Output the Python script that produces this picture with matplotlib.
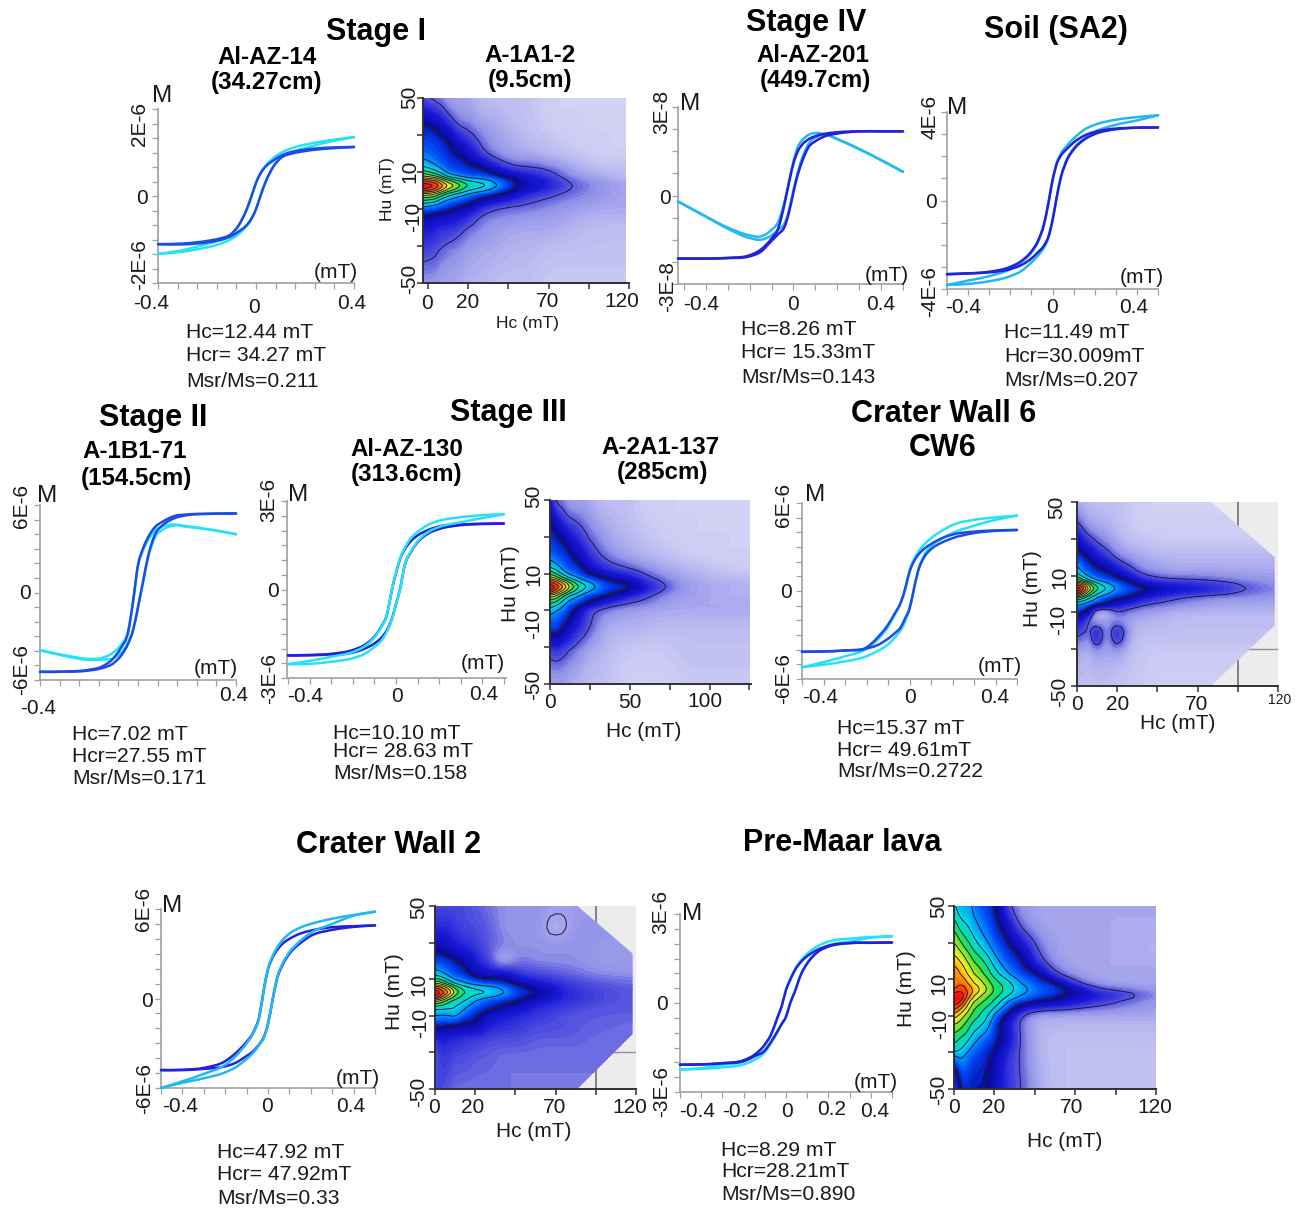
#!/usr/bin/env python3
# -*- coding: utf-8 -*-
"""Hysteresis loops and FORC diagrams, Stage I-IV, soil, crater wall and lava samples"""

import numpy as np
import matplotlib
matplotlib.use('Agg')
import matplotlib.pyplot as plt
from matplotlib.colors import LinearSegmentedColormap
from matplotlib.patches import PathPatch, Polygon
from matplotlib.path import Path

plt.rcParams['font.family'] = ['Liberation Sans', 'DejaVu Sans']

W, H = 1305, 1209

# field axis of the loops (T)
X_40 = [-0.4, -0.3, -0.2, -0.15, -0.1, -0.07, -0.04, -0.02, 0, 0.02, 0.04, 0.07, 0.1, 0.15, 0.2, 0.3, 0.4]
X_50 = [-0.5, -0.4, -0.3, -0.2, -0.15, -0.1, -0.07, -0.04, -0.02, 0, 0.02, 0.04, 0.07, 0.1, 0.15, 0.2, 0.3, 0.4, 0.5]
X_53 = [-0.527, -0.4, -0.3, -0.2, -0.15, -0.1, -0.07, -0.04, -0.02, 0, 0.02, 0.04, 0.07, 0.1, 0.15, 0.2, 0.3, 0.4, 0.5]

# Al-AZ-14, M in 1E-6
AZ14_BLUE_UP = [-1.66, -1.64, -1.55, -1.47, -1.3, -1.0, -0.5, -0.05, 0.45, 0.8, 1.02, 1.22, 1.38, 1.53, 1.6, 1.67, 1.69]
AZ14_BLUE_LO = [-1.66, -1.67, -1.6, -1.53, -1.38, -1.22, -1.02, -0.8, -0.45, 0.05, 0.5, 1.0, 1.3, 1.47, 1.55, 1.64, 1.69]
AZ14_RAW_UP = [-2.0, -1.87, -1.65, -1.52, -1.33, -1.02, -0.5, -0.05, 0.46, 0.82, 1.06, 1.3, 1.48, 1.66, 1.77, 1.92, 2.03]
AZ14_RAW_LO = [-2.0, -1.92, -1.77, -1.66, -1.48, -1.3, -1.06, -0.82, -0.46, 0.05, 0.5, 1.02, 1.33, 1.52, 1.65, 1.87, 2.03]

# Al-AZ-201, M in 1E-8
AZ201_BLUE_UP = [-2.85, -2.85, -2.82, -2.7, -2.45, -1.95, -1.5, -0.35, 0.6, 1.45, 2.0, 2.3, 2.55, 2.68, 2.8, 2.86, 2.9, 2.9, 2.9]
AZ201_BLUE_LO = [-2.85, -2.85, -2.83, -2.75, -2.55, -2.05, -1.75, -1.4, -0.75, 0.15, 0.95, 1.55, 2.2, 2.45, 2.7, 2.8, 2.9, 2.9, 2.9]
AZ201_RAW_UP = [-0.27, -0.95, -1.45, -1.8, -1.85, -1.55, -1.2, -0.25, 0.65, 1.55, 2.2, 2.5, 2.75, 2.82, 2.75, 2.55, 2.1, 1.6, 1.07]
AZ201_RAW_LO = [-0.27, -0.95, -1.5, -1.92, -2.0, -1.8, -1.55, -1.25, -0.65, 0.25, 1.05, 1.7, 2.35, 2.62, 2.75, 2.55, 2.1, 1.6, 1.07]

# Soil SA2, M in 1E-6
SOIL_BLUE_UP = [-3.33, -3.3, -3.22, -3.0, -2.75, -2.3, -1.85, -1.05, -0.15, 0.9, 1.65, 2.03, 2.35, 2.62, 2.93, 3.1, 3.25, 3.29, 3.3]
SOIL_BLUE_LO = [-3.33, -3.29, -3.25, -3.1, -2.93, -2.62, -2.35, -2.03, -1.65, -0.9, 0.15, 1.05, 1.85, 2.3, 2.75, 3.0, 3.22, 3.29, 3.3]
SOIL_RAW_UP = [-3.82, -3.62, -3.42, -3.1, -2.8, -2.35, -1.9, -1.08, -0.15, 0.92, 1.7, 2.12, 2.5, 2.8, 3.2, 3.42, 3.65, 3.77, 3.85]
SOIL_RAW_LO = [-3.82, -3.77, -3.65, -3.42, -3.2, -2.8, -2.5, -2.12, -1.7, -0.92, 0.15, 1.08, 1.9, 2.35, 2.8, 3.1, 3.42, 3.62, 3.85]

# A-1B1-71, M in 1E-6
B71_BLUE_UP = [-5.44, -5.43, -5.3, -5.1, -4.5, -3.8, -2.7, -0.6, 1.9, 3.0, 3.75, 4.5, 4.85, 5.25, 5.35, 5.4, 5.42]
B71_BLUE_LO = [-5.44, -5.43, -5.35, -5.2, -4.85, -4.35, -3.5, -2.6, -1.0, 0.7, 2.4, 4.0, 4.6, 5.1, 5.3, 5.4, 5.42]
B71_RAW_UP = [-3.95, -4.3, -4.55, -4.5, -4.1, -3.6, -2.6, -0.6, 1.8, 2.85, 3.55, 4.25, 4.55, 4.65, 4.55, 4.3, 4.0]
B71_RAW_LO = [-3.95, -4.35, -4.62, -4.6, -4.5, -4.15, -3.4, -2.5, -1.0, 0.65, 2.3, 3.8, 4.3, 4.6, 4.5, 4.3, 4.0]

# Al-AZ-130, M in 1E-6
AZ130_BLUE_UP = [-2.23, -2.22, -2.18, -2.05, -1.9, -1.6, -1.28, -0.8, -0.05, 0.55, 1.05, 1.35, 1.65, 1.83, 2.02, 2.14, 2.2, 2.23, 2.24]
AZ130_BLUE_LO = [-2.24, -2.23, -2.2, -2.14, -2.02, -1.83, -1.65, -1.35, -1.02, -0.5, 0.05, 0.8, 1.28, 1.6, 1.9, 2.05, 2.18, 2.22, 2.23]
AZ130_RAW_UP = [-2.53, -2.42, -2.28, -2.12, -1.95, -1.63, -1.3, -0.82, -0.05, 0.57, 1.08, 1.4, 1.75, 1.95, 2.2, 2.33, 2.45, 2.52, 2.55]
AZ130_RAW_LO = [-2.53, -2.52, -2.45, -2.33, -2.2, -1.95, -1.75, -1.4, -1.05, -0.52, 0.05, 0.82, 1.3, 1.63, 1.95, 2.12, 2.28, 2.42, 2.55]

# CW6, M in 1E-6
CW6_BLUE_UP = [-4.14, -4.12, -4.05, -3.85, -3.2, -2.3, -1.57, -0.75, 0.15, 1.3, 2.0, 2.45, 2.9, 3.2, 3.6, 3.85, 4.05, 4.13, 4.16]
CW6_BLUE_LO = [-4.14, -4.12, -4.06, -3.92, -3.7, -3.25, -2.9, -2.45, -1.85, -1.2, 0.1, 1.35, 2.35, 2.85, 3.3, 3.6, 3.95, 4.1, 4.16]
CW6_RAW_UP = [-5.2, -4.85, -4.45, -3.95, -3.35, -2.45, -1.65, -0.8, 0.15, 1.4, 2.15, 2.65, 3.2, 3.6, 4.1, 4.5, 4.85, 5.02, 5.14]
CW6_RAW_LO = [-5.2, -5.02, -4.8, -4.45, -4.1, -3.65, -3.2, -2.65, -2.05, -1.25, 0.1, 1.4, 2.5, 3.05, 3.55, 3.95, 4.45, 4.85, 5.14]

# CW2, M in 1E-6
CW2_BLUE_UP = [-4.8, -4.78, -4.65, -4.2, -3.65, -2.9, -2.3, -1.15, 0.55, 1.95, 2.7, 3.2, 3.7, 4.0, 4.35, 4.55, 4.78, 4.85, 4.9]
CW2_BLUE_LO = [-4.8, -4.8, -4.72, -4.55, -4.3, -3.85, -3.55, -3.05, -2.6, -1.7, -0.2, 1.2, 2.3, 3.0, 3.7, 4.2, 4.6, 4.8, 4.9]
CW2_RAW_UP = [-6.0, -5.55, -5.05, -4.45, -3.85, -3.0, -2.35, -1.2, 0.55, 2.0, 2.8, 3.35, 3.95, 4.35, 4.75, 5.0, 5.35, 5.6, 5.82]
CW2_RAW_LO = [-6.0, -5.65, -5.35, -4.95, -4.6, -4.05, -3.65, -3.1, -2.65, -1.75, -0.2, 1.25, 2.4, 3.1, 3.85, 4.4, 5.0, 5.55, 5.82]

# Pre-Maar lava, M in 1E-6
LAVA_BLUE_UP = [-2.08, -2.07, -2.03, -1.93, -1.75, -1.4, -1.05, -0.48, -0.1, 0.44, 0.78, 1.08, 1.38, 1.58, 1.8, 1.93, 2.02, 2.03, 2.04]
LAVA_BLUE_LO = [-2.08, -2.07, -2.03, -1.96, -1.8, -1.6, -1.3, -0.95, -0.7, -0.46, 0, 0.35, 0.95, 1.33, 1.72, 1.9, 2.02, 2.03, 2.04]
LAVA_RAW_UP = [-2.24, -2.2, -2.08, -1.97, -1.78, -1.42, -1.07, -0.49, -0.1, 0.45, 0.8, 1.11, 1.43, 1.66, 1.92, 2.07, 2.17, 2.22, 2.25]
LAVA_RAW_LO = [-2.24, -2.22, -2.17, -2.07, -1.92, -1.66, -1.35, -0.98, -0.72, -0.47, 0, 0.36, 0.97, 1.35, 1.75, 1.94, 2.07, 2.2, 2.25]

# FORC grids: colour level 0-20
HC_GRID = [0, 4, 8, 12, 18, 24, 32, 40, 50, 60, 72, 85, 100, 120]
HU_GRID = [50, 38, 28, 20, 13, 8, 4, 1, -2, -6, -10, -15, -22, -32, -50]

FORC_A1A1 = [
    [5, 4, 4, 3, 3, 3, 2, 2, 2, 2, 1, 1, 1, 1],
    [9, 8, 7, 6, 4, 4, 3, 3, 2, 2, 1, 1, 1, 1],
    [10, 10, 9.5, 9, 7, 6, 4.5, 3.5, 3, 2, 2, 1, 1, 1],
    [10.5, 10, 10, 9.5, 9, 8, 5.2, 4, 3, 3, 2, 2, 1, 1],
    [12, 11, 10.5, 10, 9.8, 9.5, 9, 7, 5, 5, 4.5, 3, 2, 2],
    [14.5, 13.5, 12.5, 11, 10.5, 10, 10, 9.5, 8, 7, 6, 4, 3, 2],
    [20, 19, 17.5, 16, 14.5, 13, 12.5, 11.5, 9.8, 8, 7, 5, 4, 3],
    [20, 18.5, 17, 15.5, 14, 12.5, 12, 11, 9.3, 7.5, 6.5, 5, 4, 3],
    [15.5, 15, 13.5, 12.5, 11.5, 11, 10, 9.5, 8, 6.5, 5.5, 4.5, 4, 3],
    [12.5, 12, 11, 10.5, 10, 9.5, 8, 7, 6, 5.2, 4.5, 4, 3.5, 3],
    [10.5, 10, 9.8, 9.5, 8.5, 8, 6, 5, 4.5, 4.5, 4, 3.5, 3, 3],
    [8.5, 8, 7.5, 7.5, 7, 6.2, 4.5, 4, 4, 3.5, 3.5, 3, 2.5, 2.5],
    [7, 6.5, 6, 6, 5.5, 4.5, 4, 3.5, 3, 3, 3, 2.5, 2, 2],
    [6, 5.5, 5, 4.5, 4, 3.5, 3, 3, 2.5, 2.5, 2, 2, 2, 2],
    [3.5, 3.5, 3, 3, 3, 2.5, 2.5, 2, 2, 2, 1.5, 1.5, 1.5, 1.5],
]

FORC_A2A1 = [
    [7, 4, 4, 3, 3, 3, 2, 2, 2, 1, 1, 1, 1, 1],
    [9, 8, 6.5, 5.5, 5, 4, 3, 2.5, 2, 1.5, 1, 1, 1, 1],
    [10, 9.5, 9, 8, 6.5, 5.2, 4, 3, 2.5, 2, 1.5, 1, 1, 1],
    [10.5, 10, 10, 9.5, 8, 6.5, 4.8, 4, 3, 2.5, 2, 1.5, 1, 1],
    [12, 11.5, 10.5, 10, 9.7, 8, 6.5, 5.5, 5, 4, 3, 2.5, 2, 1],
    [15, 14, 12.5, 11.5, 10.5, 9.8, 9, 8, 7, 5.5, 4, 3, 2.5, 2],
    [20, 19, 17.5, 15.5, 13, 12, 10.5, 9.8, 9.2, 7, 5.2, 3.5, 3, 2.5],
    [20, 18, 16.5, 14.5, 12.5, 11.5, 10.2, 9.6, 9, 6.8, 4.8, 3.5, 3, 2.5],
    [15.5, 15, 13, 12, 11, 10, 9.5, 8.5, 6.5, 5.5, 4, 3.5, 3, 2.5],
    [13, 12.5, 11.5, 10.5, 9.8, 9, 7, 5.8, 5, 4.5, 3.5, 3, 3, 3],
    [11.5, 11, 10.5, 9.7, 8, 5.5, 4.5, 4, 3.5, 3, 3, 3, 3, 3],
    [10.5, 10.3, 9.8, 9, 7, 5.5, 4, 3, 3, 3, 2.5, 2.5, 2.5, 2.5],
    [9.5, 9.8, 8.5, 7.5, 6, 5.2, 3, 2.5, 2.5, 2, 2, 2, 2, 2],
    [5.5, 6, 5.5, 5, 4, 3, 2.5, 2, 1.5, 1.5, 1.5, 2, 2, 2],
    [3, 3, 3, 2.5, 2.5, 2, 2, 1.5, 1, 1, 1, 1.5, 1.5, 1.5],
]

FORC_CW6 = [
    [2.5, 2.5, 2, 2, 2, 2, 1.5, 1, 1, 1, 1, 1, 1, 1],
    [5.5, 4, 3, 3, 2.5, 2, 1.5, 1, 1, 1, 1, 1, 1, 1],
    [8.5, 7, 6, 5, 4, 3, 2, 2, 1.5, 1.5, 1.5, 1.5, 1.5, 1.5],
    [10, 9.5, 8.5, 7.5, 6, 4.5, 3.5, 3, 2.5, 2.5, 2.5, 2.5, 2.5, 2.5],
    [11.5, 10.5, 10, 9.5, 9, 7.5, 5.5, 4, 3.5, 3, 3, 3, 3, 3],
    [13.5, 12, 11, 10.5, 10, 9.6, 8, 6, 5.2, 5, 5, 4.5, 4, 3.5],
    [20, 19, 15.5, 13.5, 12, 11, 10, 9.3, 8, 7.5, 7, 6.5, 5.2, 4],
    [20, 17, 14, 12.5, 11.5, 10.5, 9.8, 9, 7.5, 7, 6.5, 6, 4.8, 4],
    [14, 13, 12, 11, 10, 9.5, 8.5, 7, 6, 5.2, 4.5, 4, 4, 3.5],
    [11, 10.5, 10, 9.5, 8.5, 7, 6, 5, 4.5, 4, 3.5, 3, 3, 3],
    [9.5, 9, 7, 2, 2, 5.2, 4, 3.5, 3, 2.5, 2.5, 2.5, 2.5, 2.5],
    [7, 6, 4, 3, 3.5, 4, 3, 2.5, 2.5, 2, 2, 2, 2, 2],
    [5.5, 5, 5, 9, 3, 9, 2.5, 2, 2, 2, 2, 2, 2, 2],
    [3, 2.5, 2.5, 3, 3, 3, 2, 1.5, 1.5, 1.5, 1.5, 1.5, 1.5, 1.5],
    [2, 2, 2, 2, 2, 1.5, 1.5, 1.5, 1, 1, 1, 1, 1, 1],
]

FORC_CW2 = [
    [5.5, 5.5, 5.5, 5.5, 5.5, 5, 4.5, 4, 4, 4, 3.5, 3.5, 3.5, 3.5],
    [6.5, 6.5, 6.5, 6, 5.5, 5.5, 5, 4, 3.5, 4, 2, 4, 4, 4],
    [8.5, 8, 7.5, 7, 6.5, 6, 5, 4.5, 4, 4, 4, 4, 3.5, 3.5],
    [10, 10, 9.8, 9.3, 8.5, 7, 5.5, 2, 4.5, 4, 4, 4, 3.5, 3.5],
    [11.5, 11, 10.5, 10, 9.6, 8, 7.5, 8, 6, 5.5, 5, 4.5, 4, 4],
    [14.5, 14, 12.5, 11.5, 11, 10.5, 10, 9.8, 8.5, 7, 6.5, 5.5, 5, 4.5],
    [20, 19, 17.5, 15, 13, 12.5, 12.2, 11.5, 9.8, 9.3, 7, 6, 5.5, 5],
    [20, 18, 16, 14, 12.5, 12, 11.5, 11, 9.6, 9, 7, 6.2, 5.5, 5],
    [15, 14.5, 13, 12.5, 12, 11, 10, 9.6, 9, 7.5, 6.5, 6, 5.5, 5],
    [12, 12, 12, 12, 11, 10, 9.5, 8.5, 7.5, 6.5, 6, 5.5, 5, 5],
    [11, 11, 11, 11.5, 10, 9.5, 7.5, 7, 6.5, 6, 5.5, 5, 5, 5],
    [9.8, 9.5, 9.2, 9.2, 8.5, 9, 7, 6.5, 6, 5.5, 5.5, 5, 5, 4.5],
    [6, 7, 6.5, 6.5, 6, 6, 5.5, 5.5, 5.5, 5, 5, 5, 4.5, 4.5],
    [5, 6, 6, 5.5, 5.5, 5, 5, 4.5, 4.5, 4.5, 4.5, 4.5, 4.5, 4.5],
    [5.5, 5.5, 5, 4.5, 4.5, 4.5, 4.5, 4.5, 4.5, 4.5, 4.5, 4.5, 4.5, 4.5],
]

FORC_LAVA = [
    [12, 11, 11.5, 10.5, 10, 9.3, 5, 3.5, 3, 3, 3, 3, 3, 3],
    [14, 12.5, 12, 11.5, 10.5, 10, 8, 4.5, 3.5, 3, 3, 3, 3, 3],
    [15.5, 14.5, 13.5, 12.5, 11.5, 10.5, 9.5, 8, 4.5, 3.5, 3, 3, 3, 2.5],
    [16.5, 16, 15, 14, 13, 11.5, 10, 9.5, 5.5, 3.5, 3, 3, 3, 3],
    [18, 17, 16, 15, 14, 12.5, 11, 10, 9.3, 5, 3.5, 3, 3, 3],
    [17, 18, 17, 16, 15, 13.5, 12.5, 11, 10, 9.5, 5.2, 3.5, 3, 3],
    [18, 19, 18, 17, 15.5, 14, 12.5, 11.5, 10.5, 10, 9, 5.5, 5, 3.5],
    [20, 20, 18, 16, 14.5, 13.5, 12, 11, 10, 9.5, 8, 7, 6, 4],
    [20, 19.5, 16.5, 15, 14, 13, 11, 10, 9, 8.5, 7.5, 6, 5, 3.5],
    [18.5, 17, 15.5, 14, 13, 12, 10, 7.5, 6, 5.8, 5, 4.5, 4, 3.5],
    [16.5, 15.5, 14.5, 13.5, 12.5, 11, 8.5, 5, 3, 3, 3, 3, 3, 3],
    [15, 14.5, 13.5, 12.5, 12, 10, 7, 4.5, 2.5, 2.5, 2.5, 2.5, 2.5, 2.5],
    [13.5, 13, 12.5, 11.5, 10.5, 10, 8, 4.8, 2.5, 2, 2, 2, 2, 2],
    [12, 11.5, 10.5, 10, 9.5, 8.5, 6, 4.8, 2.5, 2, 2, 2, 2, 2],
    [3, 9, 9.5, 9, 9.2, 8, 6, 5.2, 3, 2, 2, 2, 2, 2],
]

FORC_CMAP = LinearSegmentedColormap.from_list('forc', [
    (0.00, '#e0e0f8'), (0.10, '#c0c0f2'), (0.20, '#9090e8'), (0.25, '#5858e0'),
    (0.35, '#1818d8'), (0.45, '#0808a0'), (0.50, '#0040f0'), (0.55, '#0090ff'),
    (0.60, '#00d8e8'), (0.65, '#00e0a0'), (0.70, '#30e040'), (0.75, '#a0e820'),
    (0.80, '#f8f020'), (0.85, '#ffb000'), (0.90, '#ff6000'), (1.00, '#ff0000'),
])
CONTOUR_LEVELS = [5, 9, 11, 12, 13, 14, 15, 16, 17, 18, 19]

fig = plt.figure(figsize=(W / 100, H / 100), dpi=100, facecolor='white')


def px_axes(left, top, right, bottom):
    return fig.add_axes([left / W, 1 - bottom / H, (right - left) / W, (bottom - top) / H])


def txt(x, y, s, size=15, **kw):
    kw.setdefault('ha', 'center')
    kw.setdefault('va', 'center')
    fig.text(x / W, 1 - (y + 1.5) / H, s, fontsize=size, color='#1a1a1a', **kw)


def title(x, y, s, size=17.4):
    fig.text(x / W, 1 - (y + 2) / H, s, fontsize=size, fontweight='bold', color='black',
             ha='center', va='center')


def ylab(x, y, s, size=15):
    txt(x, y, s, size=size, rotation=90)


def stats(x, ys, lines, size=15.2):
    for y, s in zip(ys, lines):
        txt(x, y, s, size=size, ha='left')


def branch(xs, ys):
    """smooth path through the read points of one branch"""
    xs = np.asarray(xs, dtype=float)
    ys = np.asarray(ys, dtype=float)
    slope = np.gradient(ys, xs)
    verts = [(xs[0], ys[0])]
    codes = [Path.MOVETO]
    for i in range(len(xs) - 1):
        dx = (xs[i + 1] - xs[i]) / 3
        verts += [(xs[i] + dx, ys[i] + slope[i] * dx),
                  (xs[i + 1] - dx, ys[i + 1] - slope[i + 1] * dx),
                  (xs[i + 1], ys[i + 1])]
        codes += [Path.CURVE4] * 3
    return verts, codes


def draw_loop(ax, xs, branches, color, z):
    for ys in branches:
        verts, codes = branch(xs, ys)
        ax.add_patch(PathPatch(Path(verts, codes), fill=False, edgecolor=color, lw=1.8,
                               zorder=z, clip_on=False, capstyle='round'))


def loop(rect, xs, blue, raw, xlim, ylim, xstep, ystep, c_raw, c_blue, raw_on_top=False):
    """one hysteresis panel, blue and raw are (upper, lower) branches"""
    ax = px_axes(*rect)
    z_raw, z_blue = (4, 3) if raw_on_top else (3, 4)
    draw_loop(ax, xs, raw, c_raw, z_raw)
    draw_loop(ax, xs, blue, c_blue, z_blue)
    ax.set_xlim(*xlim)
    ax.set_ylim(*ylim)
    ax.set_xticks(np.arange(round(xlim[0] / xstep) * xstep, xlim[1] + 1e-6, xstep))
    ax.set_yticks(np.arange(ylim[0], ylim[1] + 1e-6, ystep))
    ax.set_xticklabels([])
    ax.set_yticklabels([])
    ax.tick_params(length=4, width=0.9, color='#a0a0a0')
    for sp in ['top', 'right']:
        ax.spines[sp].set_visible(False)
    for sp in ['left', 'bottom']:
        ax.spines[sp].set_color('#a0a0a0')
        ax.spines[sp].set_linewidth(1.2)
    ax.patch.set_alpha(0)
    return ax


def refine(vals, n=4):
    idx = np.arange(len(vals))
    return np.interp(np.linspace(0, len(vals) - 1, (len(vals) - 1) * n + 1), idx, vals)


def smooth_field(field, n=4):
    """finer drawing grid for the contours, the read values stay in the arrays above"""
    grid = np.array(field, dtype=float)
    grid = np.array([refine(row, n) for row in grid])
    grid = np.array([refine(col, n) for col in grid.T]).T
    kernel = np.ones(n + 1) / (n + 1)
    pad = n // 2
    for axis in (0, 1):
        padded = np.pad(grid, [(pad, pad) if a == axis else (0, 0) for a in (0, 1)], mode='edge')
        grid = np.apply_along_axis(lambda v: np.convolve(v, kernel, mode='valid'), axis, padded)
    return grid


def forc(rect, field, hc=HC_GRID, xlim=(0, 120), xstep=24, clip=None, levels=CONTOUR_LEVELS):
    """one FORC panel, clip is the outline of the measured area"""
    ax = px_axes(*rect)
    grid = smooth_field(field)
    hc_f, hu_f = refine(hc), refine(HU_GRID)
    if clip is not None:
        ax.set_facecolor('#ececec')
        ax.axvline(96, color='#707070', lw=1.2, zorder=0.5)
        ax.axhline(-30, color='#909090', lw=1.0, zorder=0.5)
    else:
        ax.patch.set_alpha(0)
    fill = ax.contourf(hc_f, hu_f, grid, levels=np.linspace(0, 20, 81), cmap=FORC_CMAP,
                       vmin=0, vmax=20, extend='both', zorder=1)
    widths = [1.1 if lev == 9 else 0.7 for lev in levels]
    lines = ax.contour(hc_f, hu_f, grid, levels=levels, colors='#1c1c3a',
                       linewidths=widths, zorder=2)
    if clip is not None:
        poly = Polygon(clip, closed=True, transform=ax.transData, facecolor='none', edgecolor='none')
        ax.add_patch(poly)
        fill.set_clip_path(poly)
        lines.set_clip_path(poly)
    ax.set_xlim(*xlim)
    ax.set_ylim(-50, 50)
    ax.set_xticks(np.arange(0, xlim[1] + 0.1, xstep))
    ax.set_yticks([-50, -30, -10, 10, 30, 50])
    ax.set_xticklabels([])
    ax.set_yticklabels([])
    ax.tick_params(length=4, width=1.1, color='#303030')
    for sp in ['top', 'right']:
        ax.spines[sp].set_visible(False)
    for sp in ['left', 'bottom']:
        ax.spines[sp].set_color('#303030')
        ax.spines[sp].set_linewidth(1.4)
    return ax


CYAN = '#27e2f6'
BLUE = '#1c4ce6'
SKY = '#22b8f2'
DEEP = '#2222dc'

# ---- row 1
title(376, 30, 'Stage I', 22)
title(267, 56, 'Al-AZ-14')
title(267, 81, '(34.27cm)')
loop((158, 109, 354, 283), X_40, (AZ14_BLUE_UP, AZ14_BLUE_LO), (AZ14_RAW_UP, AZ14_RAW_LO),
     (-0.4, 0.4), (-3, 3), 0.08, 0.5, CYAN, BLUE)
txt(162, 94, 'M', 17.5)
ylab(140, 123, '2E-6')
txt(142, 197, '0')
ylab(140, 263, '-2E-6')
txt(151, 302, '-0.4')
txt(254, 306, '0')
txt(352, 302, '0.4')
txt(336, 271, '(mT)')
stats(186, [331, 354, 380], ['Hc=12.44 mT', 'Hcr= 34.27 mT', 'Msr/Ms=0.211'])

title(530, 54, 'A-1A1-2')
title(530, 79, '(9.5cm)')
forc((423, 98, 629, 283), FORC_A1A1, hc=[-3] + HC_GRID[1:-1] + [118], xlim=(-3, 120))
ylab(410, 96, '50')
ylab(410, 170, '10')
ylab(414, 215, '-10')
ylab(410, 277, '-50')
ylab(388, 188, 'Hu (mT)', 12.5)
txt(427, 302, '0')
txt(468, 301, '20')
txt(548, 300, '70')
txt(622, 300, '120')
txt(527, 322, 'Hc (mT)', 12.5)

title(806, 21, 'Stage IV', 22)
title(813, 54, 'Al-AZ-201')
title(815, 79, '(449.7cm)')
loop((678, 107, 903, 284), X_53, (AZ201_BLUE_UP, AZ201_BLUE_LO), (AZ201_RAW_UP, AZ201_RAW_LO),
     (-0.527, 0.5), (-4, 4), 0.1, 1, SKY, DEEP)
txt(690, 102, 'M', 17.5)
ylab(662, 110, '3E-8')
txt(665, 197, '0')
ylab(668, 285, '-3E-8')
txt(701, 303, '-0.4')
txt(793, 303, '0')
txt(881, 303, '0.4')
txt(887, 274, '(mT)')
stats(741, [328, 351, 376], ['Hc=8.26 mT', 'Hcr= 15.33mT', 'Msr/Ms=0.143'])

title(1056, 28, 'Soil (SA2)', 22)
loop((947, 112, 1158, 289), X_50, (SOIL_BLUE_UP, SOIL_BLUE_LO), (SOIL_RAW_UP, SOIL_RAW_LO),
     (-0.5, 0.5), (-4, 4), 0.1, 1, SKY, DEEP)
txt(957, 106, 'M', 17.5)
ylab(930, 115, '4E-6')
txt(931, 201, '0')
ylab(930, 290, '-4E-6')
txt(963, 306, '-0.4')
txt(1052, 306, '0')
txt(1134, 306, '0.4')
txt(1142, 276, '(mT)')
stats(1004, [331, 355, 379], ['Hc=11.49 mT', 'Hcr=30.009mT', 'Msr/Ms=0.207'])

# ---- row 2
title(153, 416, 'Stage II', 22)
title(135, 450, 'A-1B1-71')
title(136, 476, '(154.5cm)')
loop((40, 505, 236, 680), X_40, (B71_BLUE_UP, B71_BLUE_LO), (B71_RAW_UP, B71_RAW_LO),
     (-0.4, 0.4), (-6, 6), 0.08, 1, CYAN, BLUE)
txt(47, 495, 'M', 17.5)
ylab(22, 504, '6E-6')
txt(25, 592, '0')
ylab(22, 668, '-6E-6')
txt(38, 707, '-0.4')
txt(234, 694, '0.4')
txt(216, 667, '(mT)')
stats(72, [733, 755, 777], ['Hc=7.02 mT', 'Hcr=27.55 mT', 'Msr/Ms=0.171'])

title(508, 411, 'Stage III', 22)
title(407, 447, 'Al-AZ-130')
title(407, 473, '(313.6cm)')
loop((287, 501, 506, 678), X_50, (AZ130_BLUE_UP, AZ130_BLUE_LO), (AZ130_RAW_UP, AZ130_RAW_LO),
     (-0.505, 0.51), (-3, 3), 0.1, 0.5, CYAN, DEEP, raw_on_top=True)
txt(298, 494, 'M', 17.5)
ylab(269, 498, '3E-6')
txt(273, 590, '0')
ylab(270, 677, '-3E-6')
txt(305, 695, '-0.4')
txt(397, 695, '0')
txt(484, 693, '0.4')
txt(483, 662, '(mT)')
stats(333, [732, 750, 772], ['Hc=10.10 mT', 'Hcr= 28.63 mT', 'Msr/Ms=0.158'])

title(660, 445, 'A-2A1-137')
title(662, 471, '(285cm)')
forc((550, 500, 751, 684), FORC_A2A1, hc=HC_GRID[:-1] + [125], xlim=(0, 126), xstep=25)
ylab(534, 495, '50')
ylab(534, 573, '10')
ylab(534, 622, '-10')
ylab(534, 683, '-50')
ylab(510, 582, 'Hu (mT)', 15)
txt(550, 701, '0')
txt(630, 701, '50')
txt(705, 700, '100')
txt(644, 730, 'Hc (mT)', 15)

title(944, 412, 'Crater Wall 6', 22)
title(943, 446, 'CW6', 22)
loop((802, 503, 1017, 679), X_50, (CW6_BLUE_UP, CW6_BLUE_LO), (CW6_RAW_UP, CW6_RAW_LO),
     (-0.5, 0.5), (-6, 6), 0.1, 1, CYAN, BLUE)
txt(815, 494, 'M', 17.5)
ylab(783, 503, '6E-6')
txt(786, 591, '0')
ylab(784, 677, '-6E-6')
txt(820, 696, '-0.4')
txt(910, 696, '0')
txt(995, 696, '0.4')
txt(1000, 665, '(mT)')
stats(837, [727, 749, 770], ['Hc=15.37 mT', 'Hcr= 49.61mT', 'Msr/Ms=0.2722'])

forc((1077, 502, 1278, 686), FORC_CW6,
     clip=[(0, 50), (80, 50), (118, 20), (118, -17), (80, -50), (0, -50)])
ylab(1057, 506, '50')
ylab(1060, 576, '10')
ylab(1059, 618, '-10')
ylab(1060, 690, '-50')
ylab(1033, 587, 'Hu (mT)', 15)
txt(1077, 703, '0')
txt(1118, 703, '20')
txt(1197, 703, '70')
txt(1280, 699, '120', 10)
txt(1178, 722, 'Hc (mT)', 15)

# ---- row 3
title(389, 843, 'Crater Wall 2', 22)
loop((161, 909, 375, 1088), X_50, (CW2_BLUE_UP, CW2_BLUE_LO), (CW2_RAW_UP, CW2_RAW_LO),
     (-0.5, 0.5), (-6, 6), 0.1, 1, SKY, DEEP, raw_on_top=True)
txt(172, 905, 'M', 17.5)
ylab(143, 907, '6E-6')
txt(147, 1000, '0')
ylab(145, 1087, '-6E-6')
txt(180, 1105, '-0.4')
txt(267, 1105, '0')
txt(351, 1105, '0.4')
txt(358, 1077, '(mT)')
stats(217, [1151, 1173, 1197], ['Hc=47.92 mT', 'Hcr= 47.92mT', 'Msr/Ms=0.33'])

forc((435, 906, 636, 1089), FORC_CW2, levels=[3.2] + CONTOUR_LEVELS[1:],
     clip=[(0, 50), (85, 50), (118, 24), (118, -20), (85, -50), (0, -50)])
ylab(419, 906, '50')
ylab(419, 983, '10')
ylab(421, 1021, '-10')
ylab(419, 1090, '-50')
ylab(395, 990, 'Hu (mT)', 15)
txt(434, 1106, '0')
txt(473, 1106, '20')
txt(555, 1106, '70')
txt(630, 1106, '120')
txt(534, 1130, 'Hc (mT)', 15)

title(842, 841, 'Pre-Maar lava', 22)
loop((680, 914, 892, 1092), X_50, (LAVA_BLUE_UP, LAVA_BLUE_LO), (LAVA_RAW_UP, LAVA_RAW_LO),
     (-0.5, 0.5), (-3, 3), 0.1, 0.5, CYAN, DEEP)
txt(692, 912, 'M', 17.5)
ylab(661, 910, '3E-6')
txt(662, 1003, '0')
ylab(662, 1090, '-3E-6')
txt(697, 1110, '-0.4')
txt(740, 1110, '-0.2')
txt(787, 1110, '0')
txt(832, 1108, '0.2')
txt(875, 1110, '0.4')
txt(876, 1081, '(mT)')
stats(721, [1149, 1170, 1193], ['Hc=8.29 mT', 'Hcr=28.21mT', 'Msr/Ms=0.890'])

forc((954, 906, 1156, 1089), FORC_LAVA)
ylab(939, 905, '50')
ylab(939, 982, '10')
ylab(941, 1022, '-10')
ylab(939, 1088, '-50')
ylab(907, 987, 'Hu (mT)', 15)
txt(954, 1106, '0')
txt(994, 1106, '20')
txt(1072, 1106, '70')
txt(1155, 1106, '120')
txt(1065, 1140, 'Hc (mT)', 15)

fig.savefig('out.png', dpi=100, facecolor='white')
